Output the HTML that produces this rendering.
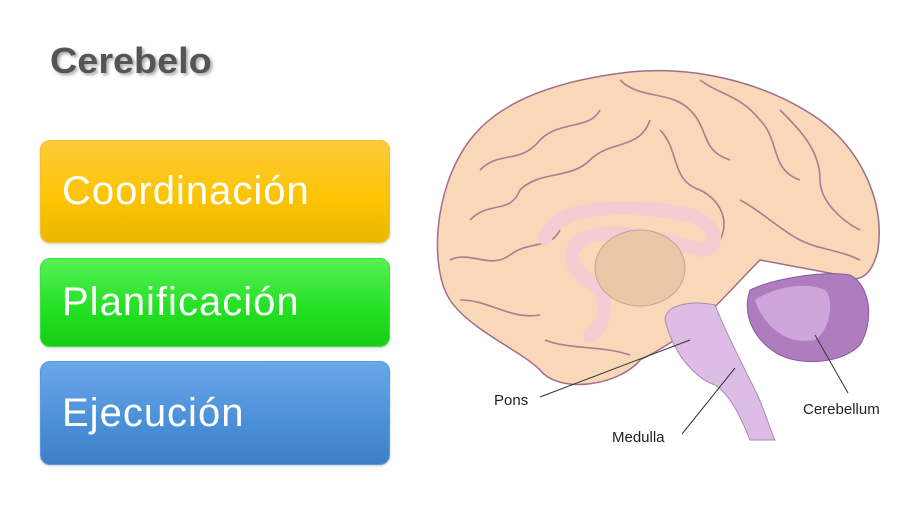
<!DOCTYPE html>
<html><head><meta charset="utf-8"><style>
body{margin:0;width:921px;height:507px;background:#fff;position:relative;overflow:hidden;font-family:"Liberation Sans",Arial,sans-serif}
.t{position:absolute;left:50px;top:40px;font-size:36px;font-weight:bold;color:#555;text-shadow:2px 2px 3px rgba(0,0,0,.35);letter-spacing:0px;transform:scaleX(1.05);transform-origin:left}
.b{position:absolute;left:40px;width:350px;border-radius:10px;color:#fff;font-size:40px;letter-spacing:1px;box-sizing:border-box;padding-left:21px;display:flex;align-items:center;box-shadow:0 1px 2px rgba(0,0,0,.2)}
</style></head><body>
<div class="t">Cerebelo</div>
<div class="b" style="top:140px;height:103px;background:linear-gradient(#ffcb3a,#fbc300 60%,#eab800);border:1px solid #f5c030">Coordinación</div>
<div class="b" style="top:258px;height:89px;background:linear-gradient(#55f055,#22e022 60%,#18cc18);border:1px solid #40e040">Planificación</div>
<div class="b" style="top:361px;height:104px;background:linear-gradient(#6aa8e8,#4a8fd8 60%,#3f7fc8);border:1px solid #5a9ae0">Ejecución</div>
<svg width="921" height="507" style="position:absolute;left:0;top:0">
<path d="M470,140 C500,100 560,80 630,72 C700,65 770,85 820,120 C860,150 885,200 878,250 C872,275 860,285 840,275 L760,260 C720,300 700,330 640,360 C620,385 560,395 540,370 C520,350 470,330 450,300 C430,270 432,190 470,140 Z" fill="#f8d8b8" stroke="#a06e88" stroke-width="1.5"/>
<g fill="none" stroke="#b07a90" stroke-width="1.6">
<path d="M480,170 C500,150 520,165 540,140 C560,120 590,130 600,110"/>
<path d="M470,220 C490,200 510,215 520,190 C540,170 570,180 590,160 C610,140 640,150 650,120"/>
<path d="M620,80 C640,100 670,90 690,110 C710,130 700,150 730,160"/>
<path d="M700,80 C720,95 740,95 760,120 C780,140 770,170 800,180"/>
<path d="M780,110 C800,130 820,150 820,180 C820,200 840,220 860,230"/>
<path d="M740,200 C760,210 780,230 800,240 C820,250 840,250 860,260"/>
<path d="M450,260 C470,250 490,270 510,255 C530,240 550,250 560,230"/>
<path d="M460,300 C490,300 510,320 540,315"/>
<path d="M545,340 C570,350 600,345 630,355"/>
<path d="M660,130 C680,150 670,180 700,190 C720,200 730,220 720,240"/>
</g>
<path d="M545,238 C560,200 640,205 690,215 C720,225 720,250 700,250 C670,240 610,225 580,240 C560,260 580,275 600,290 C610,310 600,330 590,335" fill="none" stroke="#f3ccd4" stroke-width="14" stroke-linecap="round"/>
<ellipse cx="640" cy="268" rx="45" ry="38" fill="#ebc7a8" stroke="#caa08c"/>
<path d="M750,290 C770,280 820,270 850,275 C870,285 875,320 860,345 C840,365 800,365 780,355 C760,345 740,320 750,290Z" fill="#b07cc0" stroke="#8a5aa0"/>
<path d="M755,300 C770,290 800,280 825,290 C835,300 830,330 815,340 C790,345 765,330 755,300Z" fill="#cfa6da"/>
<path d="M665,320 C665,305 690,300 715,305 C725,330 740,360 755,390 C765,410 770,430 775,440 L750,440 C740,415 730,395 715,385 C700,380 675,360 665,320Z" fill="#ddbde5" stroke="#a78ab5"/>
<g stroke="#333" stroke-width="1" fill="none">
<line x1="540" y1="397" x2="690" y2="340"/>
<line x1="682" y1="434" x2="735" y2="368"/>
<line x1="848" y1="393" x2="815" y2="335"/>
</g>
<g font-size="15" fill="#222">
<text x="494" y="405">Pons</text>
<text x="612" y="442">Medulla</text>
<text x="803" y="414">Cerebellum</text>
</g>
</svg>
</body></html>
